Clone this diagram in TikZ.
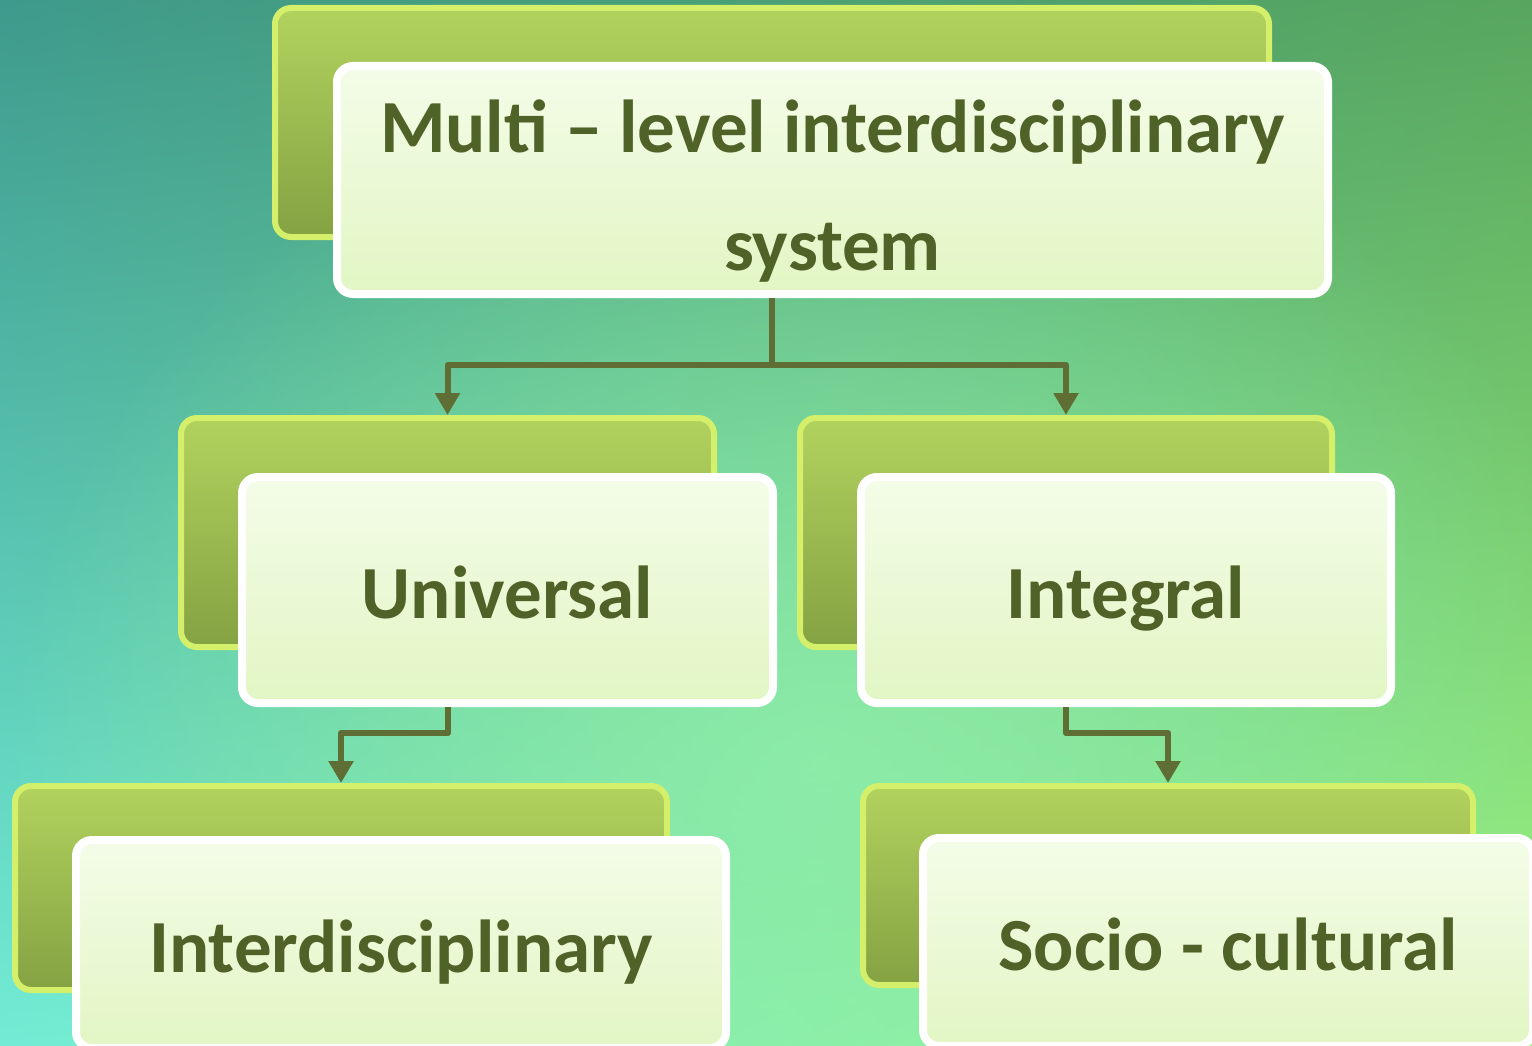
\documentclass[tikz,border=0pt]{standalone}
\usepackage{fontspec}
\setmainfont{Carlito}
\usetikzlibrary{arrows.meta,shadings,fadings}
\definecolor{bgUL}{HTML}{3E9A8C}
\definecolor{bgUR}{HTML}{58A65E}
\definecolor{bgLL}{HTML}{72ECD6}
\definecolor{bgLR}{HTML}{9CF680}
\definecolor{bgglow}{HTML}{90EEAA}
\definecolor{rim}{HTML}{D4F06A}
\definecolor{backtop}{HTML}{B2D25E}
\definecolor{backbot}{HTML}{84A242}
\definecolor{fronttop}{HTML}{F4FCE8}
\definecolor{frontbot}{HTML}{E2F6C4}
\definecolor{txt}{HTML}{4F6228}
\definecolor{conn}{HTML}{5E6E34}
\tikzfading[name=glowfade, inner color=transparent!0, outer color=transparent!100]
\tikzset{
  backbox/.style={rounded corners=16pt, draw=rim, line width=6pt, top color=backtop, bottom color=backbot, inner sep=0pt},
  frontbox/.style={rounded corners=16pt, draw=white, line width=8pt, top color=fronttop, bottom color=frontbot, inner sep=0pt,
     text=txt, font=\fontsize{75}{118}\selectfont\bfseries, align=center},
  oneline/.style={text height=56pt, text depth=0pt},
  conn/.style={draw=conn, line width=6pt, line join=round},
  tip/.style={-{Triangle[length=22pt,width=24pt]}}
}
\begin{document}
\begin{tikzpicture}[x=1pt,y=-1pt]
\useasboundingbox (0,0) rectangle (1532,1046);
\clip (0,0) rectangle (1532,1046);
\shade[upper left=bgUL, upper right=bgUR, lower left=bgLL, lower right=bgLR] (0,0) rectangle (1532,1046);
\fill[bgglow, fill opacity=0.85, path fading=glowfade] (820,760) ellipse [x radius=820pt, y radius=700pt];
% back boxes
\node[backbox, minimum width=994pt, minimum height=229pt] (topback) at (772,122.5) {};
\node[backbox, minimum width=533pt, minimum height=229pt] (uniback) at (447.5,532.5) {};
\node[backbox, minimum width=532pt, minimum height=229pt] (intback) at (1066,532.5) {};
\node[backbox, minimum width=652pt, minimum height=204pt] (interback) at (341,888) {};
\node[backbox, minimum width=610pt, minimum height=199pt] (socback) at (1168,885.5) {};
% front boxes
\node[frontbox, minimum width=991pt, minimum height=228pt, text height=180pt, text depth=0pt] (top) at (832.5,180) {Multi – level interdisciplinary\\system};
\node[frontbox, oneline, minimum width=531pt, minimum height=226pt] (uni) at (507.5,590) {Universal};
\node[frontbox, oneline, minimum width=530pt, minimum height=226pt] (int) at (1126,590) {Integral};
\node[frontbox, oneline, minimum width=650pt, minimum height=208pt] (inter) at (401,944) {Interdisciplinary};
\node[frontbox, oneline, minimum width=610pt, minimum height=208pt] (soc) at (1228,942) {Socio - cultural};
% connectors
\coordinate (j1) at (772,365);
\draw[conn] (top.south -| j1) -- (j1);
\draw[conn, tip] (j1) -| (uniback.north);
\draw[conn, tip] (j1) -| (intback.north);
\coordinate (j2) at (448,733);
\draw[conn, tip] (uni.south -| j2) -- (j2) -| (interback.north);
\coordinate (j3) at (1066,733);
\draw[conn, tip] (int.south -| j3) -- (j3) -| (socback.north);
\end{tikzpicture}
\end{document}
